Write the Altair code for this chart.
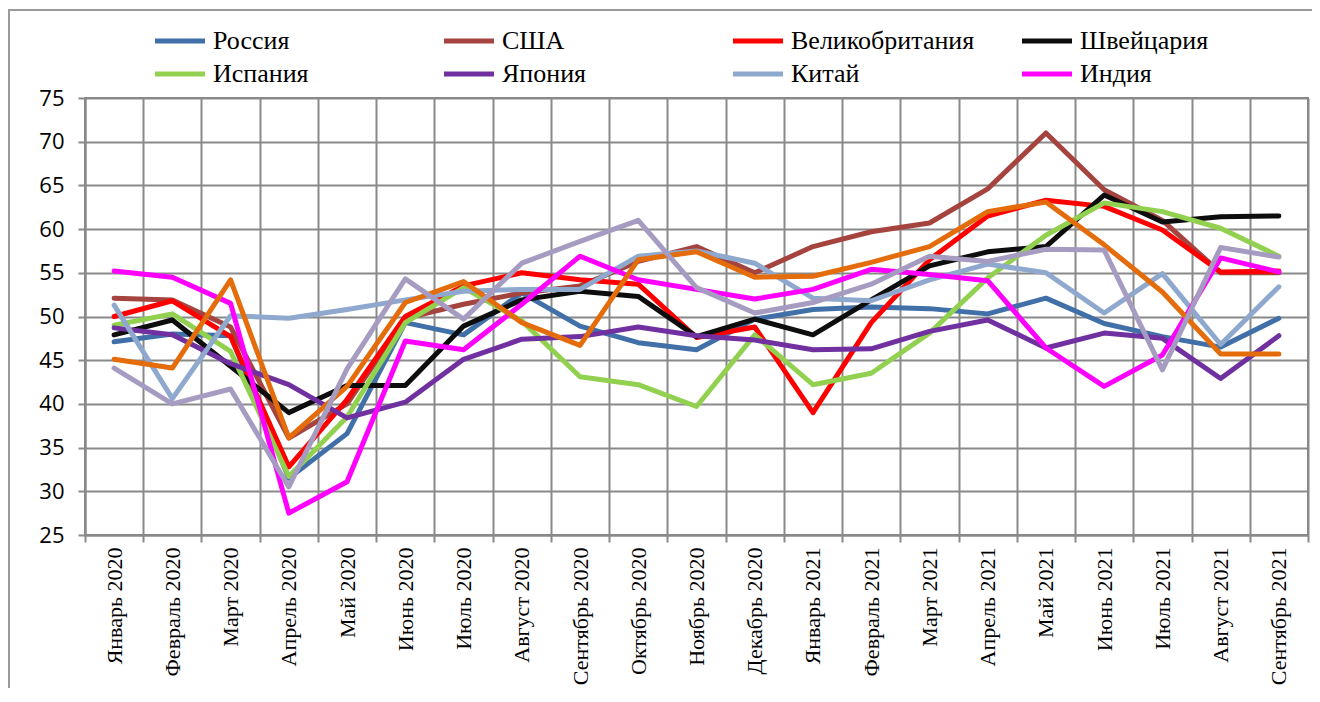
import altair as alt
import pandas as pd

months = ["Январь 2020", "Февраль 2020", "Март 2020", "Апрель 2020", "Май 2020",
          "Июнь 2020", "Июль 2020", "Август 2020", "Сентябрь 2020", "Октябрь 2020",
          "Ноябрь 2020", "Декабрь 2020", "Январь 2021", "Февраль 2021", "Март 2021",
          "Апрель 2021", "Май 2021", "Июнь 2021", "Июль 2021", "Август 2021", "Сентябрь 2021"]

russia = [47.1, 48.0, 47.8, 31.5, 36.6, 49.3, 47.9, 52.7, 48.9, 47.0, 46.2,
          49.7, 50.8, 51.1, 50.9, 50.3, 52.1, 49.2, 47.7, 46.5, 49.8]
usa = [52.1, 51.9, 48.8, 36.1, 40.0, 49.8, 51.4, 52.7, 53.5, 56.3, 58.0,
       55.0, 58.0, 59.7, 60.7, 64.6, 71.0, 64.5, 61.0, 55.0, 55.0]
uk = [50.0, 51.8, 47.7, 32.8, 40.5, 50.0, 53.5, 55.0, 54.2, 53.7, 47.6,
      48.8, 39.0, 49.3, 56.5, 61.5, 63.3, 62.6, 59.9, 55.1, 55.2]
swiss = [47.9, 49.6, 44.3, 39.0, 42.1, 42.1, 48.9, 51.9, 52.9, 52.3, 47.7,
         49.7, 47.9, 51.9, 55.8, 57.4, 58.0, 63.9, 60.8, 61.4, 61.5]
spain = [49.0, 50.3, 46.0, 31.7, 38.5, 49.3, 53.3, 49.5, 43.1, 42.2, 39.7,
         47.9, 42.2, 43.5, 48.1, 54.4, 59.3, 63.0, 62.0, 60.1, 56.9]
japan = [48.7, 47.9, 44.6, 42.2, 38.4, 40.2, 45.1, 47.4, 47.7, 48.8, 47.8,
         47.3, 46.2, 46.3, 48.3, 49.6, 46.4, 48.1, 47.5, 42.9, 47.8]
china = [51.3, 40.6, 50.1, 49.8, 50.8, 51.9, 52.9, 53.1, 53.1, 56.9, 57.5,
         56.1, 52.1, 51.8, 54.2, 56.0, 55.0, 50.4, 54.9, 46.8, 53.4]
india = [55.2, 54.5, 51.5, 27.5, 31.1, 47.2, 46.2, 51.4, 56.9, 54.2, 53.1,
         52.0, 53.1, 55.4, 54.8, 54.1, 46.4, 42.0, 45.6, 56.7, 55.1]
series9 = [45.1, 44.1, 54.2, 36.1, 42.0, 51.6, 54.0, 49.3, 46.7, 56.5, 57.4,
           54.5, 54.6, 56.2, 58.0, 62.0, 63.1, 58.2, 52.8, 45.7, 45.7]
series10 = [44.1, 40.0, 41.7, 30.5, 44.0, 54.3, 49.7, 56.1, 58.6, 61.0, 53.3,
            50.4, 51.6, 53.7, 56.9, 56.3, 57.7, 57.6, 43.9, 57.9, 56.8]

names = ["Россия", "США", "Великобритания", "Швейцария", "Испания", "Япония",
         "Китай", "Индия", "Ряд 9", "Ряд 10"]
legend_names = names[:8]
colors = ["#4170A8", "#A5433F", "#FF0000", "#0D0D0D", "#92D050", "#7030A0",
          "#8EA8CE", "#FF00FF", "#E46C0A", "#A69BC0"]
all_series = [russia, usa, uk, swiss, spain, japan, china, india, series9, series10]

rows = []
for si, (name, vals) in enumerate(zip(names, all_series)):
    for mi, (m, v) in enumerate(zip(months, vals)):
        rows.append({"series": name, "month": m, "value": v, "order": si})
df = pd.DataFrame(rows)

grid_color = "#898989"

lines = alt.Chart(df).mark_line(strokeWidth=5, strokeJoin="round", strokeCap="round").encode(
    x=alt.X("month:N", sort=months,
            scale=alt.Scale(type="band", paddingInner=0, paddingOuter=0),
            axis=alt.Axis(title=None, labelAngle=-90, labelFont="Liberation Serif",
                          labelFontSize=22, labelColor="black", labelPadding=5,
                          tickBand="extent", grid=True, gridColor=grid_color, gridWidth=2,
                          tickColor=grid_color, tickWidth=2, tickSize=7,
                          domainColor=grid_color, domainWidth=2, labelLimit=300)),
    y=alt.Y("value:Q", scale=alt.Scale(domain=[25, 75], nice=False, zero=False),
            axis=alt.Axis(title=None, values=list(range(25, 80, 5)),
                          labelFont="Open Sans", labelFontSize=22, labelColor="black",
                          labelPadding=14, grid=True, gridColor=grid_color, gridWidth=2,
                          tickColor=grid_color, tickWidth=2, tickSize=7,
                          domainColor=grid_color, domainWidth=2)),
    color=alt.Color("series:N", sort=names,
                    scale=alt.Scale(domain=names, range=colors),
                    legend=alt.Legend(values=legend_names, title=None, orient="none",
                                      legendX=82, legendY=-70, columns=4,
                                      direction="horizontal",
                                      symbolType="M-3,0H3", symbolSize=278,
                                      symbolStrokeWidth=5, symbolOffset=0,
                                      labelFont="Liberation Serif", labelFontSize=26,
                                      labelColor="black", labelOffset=20,
                                      gridAlign="all", columnPadding=36, rowPadding=7,
                                      labelLimit=400)),
    order=alt.Order("order:Q"),
    detail="series:N",
)

frame = alt.Chart(df).mark_rect(fill=None, stroke="#9a9a9a", strokeWidth=1.5).encode(
    x=alt.value(-76), x2=alt.value(1231), y=alt.value(-88), y2=alt.value(620)
)

chart = alt.layer(lines, frame).properties(
    width=1223, height=437,
    padding={"left": 77, "top": 90, "right": 4, "bottom": 153},
    autosize=alt.AutoSizeParams(type="none"),
).configure_view(stroke=grid_color, strokeWidth=2)

chart.save("out.html", embed_options={"renderer": "svg", "actions": False})
